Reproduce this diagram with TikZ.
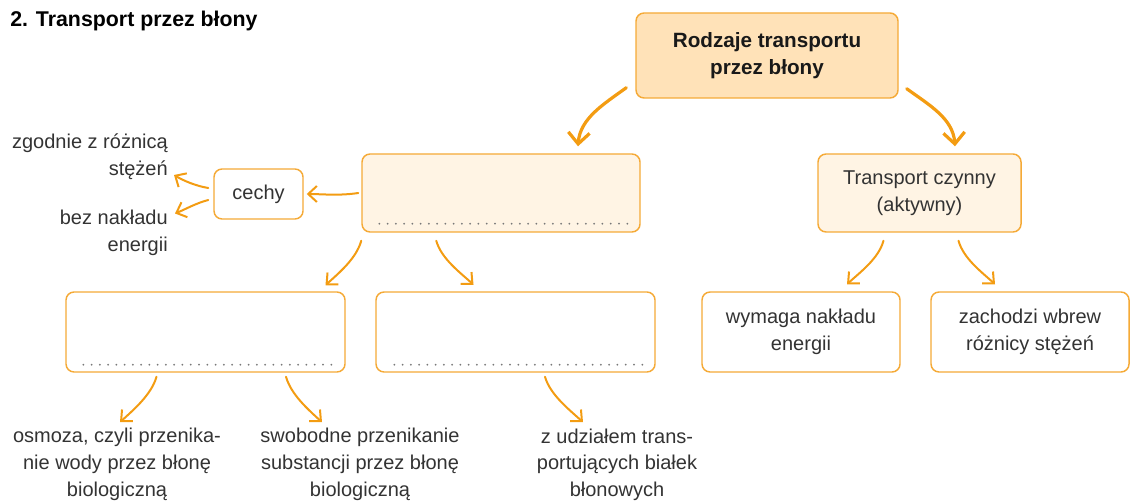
\documentclass[tikz,border=0pt]{standalone}
\usepackage{fontspec}
\setmainfont{Liberation Sans}
\usetikzlibrary{arrows.meta}
\definecolor{arr}{RGB}{243,156,18}
\definecolor{bord}{RGB}{245,170,55}
\definecolor{topfill}{RGB}{255,226,184}
\definecolor{lightfill}{RGB}{255,244,228}
\definecolor{txt}{RGB}{51,51,51}
\definecolor{dotc}{RGB}{120,120,120}
\newcommand{\bodyfnt}{\fontsize{15}{20}\selectfont}
\tikzset{
  box/.style={draw=bord, line width=1.1pt, rounded corners=6pt, inner sep=0pt,
    align=center, text=txt, font=\bodyfnt},
  lbl/.style={inner sep=0pt, text=txt, font=\bodyfnt},
  thinarrow/.style={draw=arr, line width=1.5pt, line cap=round, line join=round,
    -{Straight Barb[length=6.5pt,width=12pt]}},
  thickarrow/.style={draw=arr, line width=2.4pt, line cap=round, line join=round,
    -{Straight Barb[length=8.5pt,width=16pt]}},
  dotline/.style={draw=dotc, line width=1.5pt, line cap=round, dash pattern=on 0pt off 6.2pt}
}
\begin{document}
\begin{tikzpicture}[x=0.75pt,y=-0.75pt]
\useasboundingbox (0,0) rectangle (1141,502);

% title
\node[anchor=west, inner sep=0pt, font=\fontsize{16}{18}\selectfont\bfseries] (title) at (10,21) {2. Transport przez błony};

% boxes
\node[box, fill=topfill, minimum width=196.5pt, minimum height=63.75pt,
  font=\fontsize{15.5}{20}\selectfont\bfseries, text=black!90] (top) at (767,55.5)
  {Rodzaje transportu\\przez błony};
\node[box, fill=lightfill, minimum width=208.5pt, minimum height=58.5pt] (pas) at (501,193) {};
\node[box, fill=white, minimum width=66.75pt, minimum height=37.5pt] (cechy) at (258.5,194) {cechy};
\node[box, fill=lightfill, minimum width=152.25pt, minimum height=58.5pt] (act) at (919.5,193)
  {Transport czynny\\(aktywny)};
\node[box, fill=white, minimum width=209.25pt, minimum height=60pt] (L1) at (205.5,332) {};
\node[box, fill=white, minimum width=209.25pt, minimum height=60pt] (L2) at (515.5,332) {};
\node[box, fill=white, minimum width=148.5pt, minimum height=60pt] (wym) at (801,332)
  {wymaga nakładu\\energii};
\node[box, fill=white, minimum width=148.5pt, minimum height=60pt] (zach) at (1030,332)
  {zachodzi wbrew\\różnicy stężeń};

% dotted answer lines
\draw[dotline] ([shift={(18,-9)}]pas.south west) -- ([shift={(-12,-9)}]pas.south east);
\draw[dotline] ([shift={(18,-8)}]L1.south west) -- ([shift={(-12,-8)}]L1.south east);
\draw[dotline] ([shift={(19,-8)}]L2.south west) -- ([shift={(-12,-8)}]L2.south east);

% free labels
\node[lbl, anchor=east, align=right] (zgod) at (168,156.5) {zgodnie z różnicą\\stężeń};
\node[lbl, anchor=east, align=right] (bez) at (168,232.5) {bez nakładu\\energii};
\node[lbl, align=center] (osm) at (117,464.5) {osmoza, czyli przenika-\\nie wody przez błonę\\biologiczną};
\node[lbl, align=center] (swob) at (360,464.5) {swobodne przenikanie\\substancji przez błonę\\biologiczną};
\node[lbl, align=center] (zud) at (617,464.5) {z udziałem trans-\\portujących białek\\błonowych};

% arrows
\draw[thickarrow] ([shift={(-9,-11)}]top.south west) .. controls +(-22,16) and +(2,-28) .. ([shift={(77,-7)}]pas.north);
\draw[thickarrow] ([shift={(8,-10)}]top.south east) .. controls +(22,16) and +(-2,-28) .. ([shift={(35.5,-7)}]act.north);

\draw[thinarrow] ([shift={(-3,0)}]pas.west) .. controls +(-20,3) and +(15,0) .. ([shift={(3,0)}]cechy.east);
\draw[thinarrow] ([shift={(-5,-6)}]cechy.west) .. controls +(-12,-2) and +(10,6) .. ([shift={(6,18.5)}]zgod.east);
\draw[thinarrow] ([shift={(-5,6)}]cechy.west) .. controls +(-12,3) and +(10,-4) .. ([shift={(7,-19)}]bez.east);

\draw[thinarrow] ([shift={(0,8)}]pas.south west) .. controls +(-5,18) and +(13,-12) .. ([shift={(120,-6)}]L1.north);
\draw[thinarrow] ([shift={(75,8)}]pas.south west) .. controls +(5,18) and +(-13,-12) .. ([shift={(-42,-6.5)}]L2.north);

\draw[thinarrow] ([shift={(-49,4)}]L1.south) .. controls +(-5,18) and +(13,-12) .. ([shift={(3,-6)}]osm.north);
\draw[thinarrow] ([shift={(80.5,4)}]L1.south) .. controls +(5,18) and +(-13,-12) .. ([shift={(-38,-6)}]swob.north);
\draw[thinarrow] ([shift={(29.5,4)}]L2.south) .. controls +(5,18) and +(-13,-12) .. ([shift={(-34,-6)}]zud.north);

\draw[thinarrow] ([shift={(-36,8)}]act.south) .. controls +(-5,18) and +(13,-12) .. ([shift={(46,-7)}]wym.north);
\draw[thinarrow] ([shift={(39,8)}]act.south) .. controls +(5,18) and +(-13,-12) .. ([shift={(-35,-7)}]zach.north);
\end{tikzpicture}
\end{document}
